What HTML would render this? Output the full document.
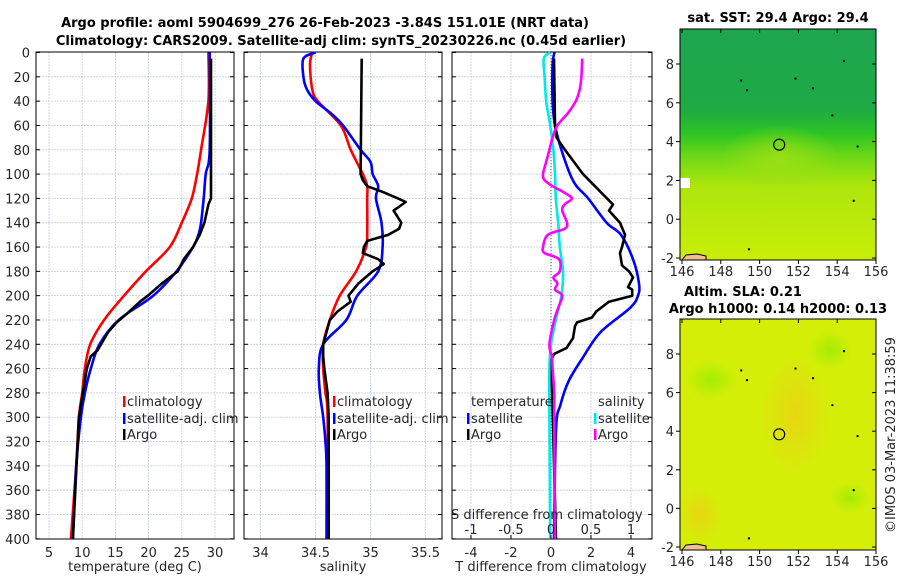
<!DOCTYPE html>
<html><head><meta charset="utf-8">
<style>
body{margin:0;background:#fff;}
svg{display:block;font-family:"DejaVu Sans","Liberation Sans",sans-serif;}
</style></head>
<body>
<svg id="fig" width="900" height="580" viewBox="0 0 900 580" xmlns="http://www.w3.org/2000/svg">
<defs>
<linearGradient id="sstg" x1="0" y1="0" x2="0" y2="1">
<stop offset="0" stop-color="#1ea650"/><stop offset="0.35" stop-color="#1eaa44"/>
<stop offset="0.45" stop-color="#2cc424"/><stop offset="0.55" stop-color="#6cd816"/>
<stop offset="0.68" stop-color="#aee60c"/><stop offset="1" stop-color="#c8ee08"/>
</linearGradient>
<radialGradient id="sstbump" cx="0.5" cy="0.5" r="0.5">
<stop offset="0" stop-color="#9ee014" stop-opacity="0.9"/><stop offset="1" stop-color="#9ee014" stop-opacity="0"/>
</radialGradient>
<radialGradient id="slaor" cx="0.5" cy="0.5" r="0.5">
<stop offset="0" stop-color="#f0cc14" stop-opacity="0.7"/><stop offset="1" stop-color="#f0cc14" stop-opacity="0"/>
</radialGradient>
<radialGradient id="slagr" cx="0.5" cy="0.5" r="0.5">
<stop offset="0" stop-color="#98ec00" stop-opacity="0.8"/><stop offset="1" stop-color="#98ec00" stop-opacity="0"/>
</radialGradient>
</defs>
<g id="root"></g>
</svg>
<script>
// ---- data ----
const depthTicks = [0,20,40,60,80,100,120,140,160,180,200,220,240,260,280,300,320,340,360,380,400];
const tempTicks = [5,10,15,20,25,30];
const salTicks = [34,34.5,35,35.5];
const tdiffTicks = [-4,-2,0,2,4];
const sdiffTicks = [-1,-0.5,0,0.5,1];
const lonTicks = [146,148,150,152,154,156];
const latTicks = [-2,0,2,4,6,8];

const tClimDepth = [0,40,80,100,120,140,160,180,200,220,240,260,280,300,340,400];
const tClimVal   = [29.0,29.0,27.9,27.3,26.5,25.0,23.2,19.6,16.3,13.3,11.2,10.4,10.0,9.5,9.1,8.3];
const tSatDepth  = [0,80,100,120,140,150,160,180,200,220,240,260,280,300,340,400];
const tSatVal    = [29.2,29.2,28.6,28.3,27.9,27.5,26.7,24.2,20.7,15.5,12.6,11.3,10.4,9.8,9.1,8.6];
const tArgoDepth = [5,80,120,125,140,150,160,170,180,190,200,205,215,222,230,245,250,260,280,300,400];
const tArgoVal   = [29.4,29.4,29.4,29.0,28.4,27.7,26.7,25.3,24.4,22.0,19.9,18.7,16.7,15.2,13.9,12.3,11.3,10.7,10.1,9.5,8.6];

const sClimDepth = [0,10,30,40,60,80,100,110,120,150,160,180,200,220,240,260,280,300,400];
const sClimVal   = [34.47,34.45,34.47,34.52,34.73,34.82,34.93,34.97,34.97,34.97,34.96,34.87,34.72,34.63,34.57,34.57,34.59,34.61,34.61];
const sSatDepth  = [0,5,20,30,40,50,60,80,90,100,110,120,140,160,180,200,220,240,260,280,300,320,340,400];
const sSatVal    = [34.5,34.39,34.39,34.42,34.5,34.64,34.75,34.91,35.0,35.02,35.07,35.05,35.1,35.11,35.07,34.88,34.78,34.57,34.53,34.54,34.57,34.59,34.6,34.6];
const sArgoDepth = [5,100,105,110,115,120,123,130,140,145,150,155,160,165,170,174,180,190,200,205,213,220,240,250,260,280,300,400];
const sArgoVal   = [34.92,34.91,34.93,34.97,35.12,35.25,35.32,35.21,35.28,35.26,35.16,34.97,34.94,34.93,35.07,35.12,35.02,34.89,34.8,34.82,34.7,34.63,34.57,34.57,34.58,34.61,34.62,34.62];

const dTSatDepth = [0,10,40,60,80,100,110,120,140,150,170,190,200,210,230,250,270,290,310,400];
const dTSatVal   = [0.17,0.08,0.08,0.2,0.52,0.95,1.28,1.86,2.78,3.5,4.1,4.4,4.35,3.96,2.48,1.63,0.89,0.47,0.25,0.15];
const dTArgoDepth = [5,60,70,80,100,120,125,130,140,150,160,165,175,180,185,193,195,200,205,213,218,222,225,235,243,248,252,270,400];
const dTArgoVal   = [0.15,0.2,0.28,0.7,1.6,2.8,3.1,2.9,3.45,3.7,3.55,3.45,3.55,3.9,4.1,3.85,4.06,4.06,2.9,2.26,2.05,1.3,1.2,1.1,0.78,0.15,0.04,0.04,0.25];
const dSSatDepth = [0,5,20,40,60,80,100,120,140,160,180,200,220,240,260,300,400];
const dSSatVal   = [-0.01,-0.09,-0.08,-0.06,-0.01,0.03,0.05,0.06,0.09,0.11,0.15,0.13,0.06,0,-0.02,-0.02,-0.01];
const dSArgoDepth = [5,20,30,40,50,60,70,80,90,100,105,110,115,120,125,130,140,145,150,160,165,170,180,185,190,195,200,210,220,240,250,260,280,300,400];
const dSArgoVal   = [0.39,0.38,0.36,0.31,0.21,0.08,0.02,-0.02,-0.06,-0.1,-0.08,0.02,0.16,0.26,0.17,0.14,0.2,0.17,-0.04,-0.1,-0.08,0.1,0.11,0.03,0.08,0.05,0.14,0.09,0.04,-0.02,0.01,0.02,0.04,0.04,0.05];

const argoLon = 151.01, argoLat = 3.84;

// ---- helpers ----
const NS="http://www.w3.org/2000/svg";
const root=document.getElementById('root');
function mk(tag,attrs,parent){const e=document.createElementNS(NS,tag);for(const k in attrs)e.setAttribute(k,attrs[k]);(parent||root).appendChild(e);return e;}
function txt(x,y,s,attrs,parent){const e=mk('text',Object.assign({x:x,y:y},attrs||{}),parent);e.textContent=s;return e;}
const yD = d => 52.5 + d*1.2158;
const xT = t => 49 + (t-5)*6.64;
const xS = s => 260.5 + (s-34)*110;
const xdT = v => 551 + v*20;
const xdS = v => 551 + v*80;
const lonX = l => 682 + (l-146)*19.4;
const latYTop = l => 258 - (l+2)*19.4;
const latYBot = l => 547 - (l+2)*19.3;
const GRID='#c4cbe8';

function smoothPath(pts){
  let d='M'+pts[0][0].toFixed(1)+','+pts[0][1].toFixed(1);
  for(let i=0;i<pts.length-1;i++){
    const p0=pts[Math.max(0,i-1)],p1=pts[i],p2=pts[i+1],p3=pts[Math.min(pts.length-1,i+2)];
    const c1x=p1[0]+(p2[0]-p0[0])/6,c1y=p1[1]+(p2[1]-p0[1])/6;
    const c2x=p2[0]-(p3[0]-p1[0])/6,c2y=p2[1]-(p3[1]-p1[1])/6;
    d+=` C${c1x.toFixed(1)},${c1y.toFixed(1)} ${c2x.toFixed(1)},${c2y.toFixed(1)} ${p2[0].toFixed(1)},${p2[1].toFixed(1)}`;
  }
  return d;
}

function panel(name,x0,x1,xf,ticks,labelFmt,showY){
  const g=mk('g',{});
  
  
  ticks.forEach(t=>{mk('line',{x1:xf(t),x2:xf(t),y1:52,y2:539,stroke:GRID,'stroke-width':0.8,'stroke-dasharray':'2,1'},g);});
  depthTicks.forEach(d=>{if(d>0&&d<400)mk('line',{x1:x0,x2:x1,y1:yD(d),y2:yD(d),stroke:GRID,'stroke-width':0.8,'stroke-dasharray':'2,1'},g);
    mk('line',{x1:x0,x2:x0+4,y1:yD(d),y2:yD(d),stroke:'#000','stroke-width':1},g);
    mk('line',{x1:x1-4,x2:x1,y1:yD(d),y2:yD(d),stroke:'#000','stroke-width':1},g);
    if(showY){const l=txt(30,yD(d)+5,String(d),{'font-size':13,'text-anchor':'end',fill:'#262626'},g);
      
      }
  });
  if(labelFmt){ticks.forEach(t=>{const l=txt(xf(t),557,labelFmt(t),{'font-size':13,'text-anchor':'middle',fill:'#262626'},g);
    
    });}
  mk('rect',{x:x0,y:52,width:x1-x0,height:487,fill:'none',stroke:'#000','stroke-width':1},g);
  return g;
}
function line(xs,ds,xf,col,name,smooth){
  const pts=ds.map((d,i)=>[xf(xs[i]),yD(d)]);
  const p=mk('path',{d:smooth?smoothPath(pts):('M'+pts.map(q=>q[0].toFixed(1)+','+q[1].toFixed(1)).join(' L')),fill:'none',stroke:col,'stroke-width':2.6,'stroke-linejoin':'round'});
  
  
  return p;
}
function legend(x,y,col,label,name){
  const g=mk('g',{});
  
  
  mk('rect',{x:x,y:y-10,width:2.5,height:11,fill:col},g);
  txt(x+4,y,label,{'font-size':13,fill:'#262626'},g);
}

// titles
const t1=txt(325,27,'Argo profile: aoml 5904699_276 26-Feb-2023 -3.84S 151.01E (NRT data)',{'font-size':13,'font-weight':'bold','text-anchor':'middle'});


const t2=txt(341,45,'Climatology: CARS2009. Satellite-adj clim: synTS_20230226.nc (0.45d earlier)',{'font-size':13,'font-weight':'bold','text-anchor':'middle'});



// panel 1 temperature
panel('temperature-panel',36,234,xT,tempTicks,t=>String(t),true);
line(tClimVal,tClimDepth,xT,'#f00','temp-climatology-line',true);
line(tSatVal,tSatDepth,xT,'#00f','temp-satellite-line',true);
line(tArgoVal,tArgoDepth,xT,'#000','temp-argo-line',false);
legend(123,406,'#f00','climatology','legend-climatology');
legend(123,423,'#00f','satellite-adj. clim','legend-satellite');
legend(123,439,'#000','Argo','legend-argo');
let at=txt(135,571,'temperature (deg C)',{'font-size':13,'text-anchor':'middle',fill:'#262626'});



// panel 2 salinity
panel('salinity-panel',244,442,xS,salTicks,t=>String(t),false);
line(sClimVal,sClimDepth,xS,'#f00','sal-climatology-line',true);
line(sSatVal,sSatDepth,xS,'#00f','sal-satellite-line',true);
line(sArgoVal,sArgoDepth,xS,'#000','sal-argo-line',false);
legend(333,406,'#f00','climatology','legend-climatology-sal');
legend(333,423,'#00f','satellite-adj. clim','legend-satellite-sal');
legend(333,439,'#000','Argo','legend-argo-sal');
at=txt(343,571,'salinity',{'font-size':13,'text-anchor':'middle',fill:'#262626'});



// panel 3 differences
panel('difference-panel',452,652,xdT,tdiffTicks,t=>String(t),false);
mk('line',{x1:xdT(0),x2:xdT(0),y1:52,y2:539,stroke:'#555','stroke-width':1,'stroke-dasharray':'1,2'});
line(dSSatVal,dSSatDepth,xdS,'#00e8e8','sdiff-satellite-line',true);
line(dTSatVal,dTSatDepth,xdT,'#00f','tdiff-satellite-line',true);
line(dTArgoVal,dTArgoDepth,xdT,'#000','tdiff-argo-line',false);
line(dSArgoVal,dSArgoDepth,xdS,'#f0f','sdiff-argo-line',true);
let lt=txt(471,406,'temperature',{'font-size':13,fill:'#262626'});


lt=txt(598,406,'salinity',{'font-size':13,fill:'#262626'});


legend(467,423,'#00f','satellite','legend-tdiff-satellite');
legend(467,439,'#000','Argo','legend-tdiff-argo');
legend(594,423,'#00e8e8','satellite','legend-sdiff-satellite');
legend(594,439,'#f0f','Argo','legend-sdiff-argo');
let sl=txt(451,519,'S difference from climatology',{'font-size':13,fill:'#262626'});


sdiffTicks.forEach(v=>{const l=txt(xdS(v),534,String(v),{'font-size':13,'text-anchor':'middle',fill:'#262626'});
  
  
  mk('line',{x1:xdS(v),x2:xdS(v),y1:535,y2:539,stroke:'#000'});});
at=txt(551,571,'T difference from climatology',{'font-size':13,'text-anchor':'middle',fill:'#262626'});



// maps
function map(name,y0,y1,latY,bgfill,overlays){
  const g=mk('g',{});
  
  
  mk('rect',{x:680,y:y0,width:196,height:y1-y0,fill:bgfill},g);
  overlays(g);
  [[149.4,-1.5],[151.8,7.3],[154.3,8.2],[153.7,5.4],[149,7.2],[155,3.8],[149.3,6.7],[152.7,6.8],[154.8,1]].forEach(p=>{
    mk('rect',{x:lonX(p[0]),y:latY(p[1]),width:2,height:2,fill:'#000'},g);});
  mk('path',{d:`M682 ${y1} L686 ${y1-5} L697 ${y1-6} L706 ${y1-4} L706 ${y1} Z`,fill:'#f0c090',stroke:'#000','stroke-width':1},g);
  const c=mk('circle',{cx:lonX(argoLon),cy:latY(argoLat),r:5.5,fill:'none',stroke:'#000','stroke-width':1.2},g);
  
  
  mk('rect',{x:680,y:y0,width:196,height:y1-y0,fill:'none',stroke:'#000','stroke-width':1},g);
  latTicks.forEach(l=>{mk('line',{x1:676,x2:680,y1:latY(l),y2:latY(l),stroke:'#000'},g);
    mk('line',{x1:876,x2:872,y1:latY(l),y2:latY(l),stroke:'#000'},g);
    const lb=txt(674,latY(l)+5,String(l),{'font-size':13,'text-anchor':'end',fill:'#262626'},g);
    
    });
  lonTicks.forEach(l=>{mk('line',{x1:lonX(l),x2:lonX(l),y1:y1,y2:y1+4,stroke:'#000'},g);
    mk('line',{x1:lonX(l),x2:lonX(l),y1:y0,y2:y0+4,stroke:'#000'},g);
    const lb=txt(lonX(l),y1+16,String(l),{'font-size':13,'text-anchor':'middle',fill:'#262626'},g);
    
    });
}
map('sst-map',29,260,latYTop,'url(#sstg)',g=>{
  mk('ellipse',{cx:780,cy:160,rx:60,ry:35,fill:'url(#sstbump)'},g);
  mk('rect',{x:680,y:178,width:10,height:10,fill:'#fff'},g);
});
let mt=txt(778,22,'sat. SST: 29.4 Argo: 29.4',{'font-size':13,'font-weight':'bold','text-anchor':'middle'});


map('sla-map',319,550,latYBot,'#d4ee08',g=>{
  mk('ellipse',{cx:795,cy:415,rx:35,ry:60,fill:'url(#slaor)'},g);
  mk('ellipse',{cx:711,cy:380,rx:26,ry:20,fill:'url(#slagr)'},g);
  mk('ellipse',{cx:850,cy:498,rx:20,ry:16,fill:'url(#slagr)'},g);
  mk('ellipse',{cx:830,cy:350,rx:22,ry:20,fill:'url(#slagr)'},g);
  mk('ellipse',{cx:700,cy:515,rx:22,ry:28,fill:'url(#slaor)'},g);
});
mt=txt(743,296,'Altim. SLA: 0.21',{'font-size':13,'font-weight':'bold','text-anchor':'middle'});


mt=txt(778,313,'Argo h1000: 0.14 h2000: 0.13',{'font-size':13,'font-weight':'bold','text-anchor':'middle'});


const cr=txt(0,0,'©IMOS 03-Mar-2023 11:38:59',{'font-size':13,'text-anchor':'middle',fill:'#262626',transform:'translate(895,435) rotate(-90)'});


</script>
</body></html>
